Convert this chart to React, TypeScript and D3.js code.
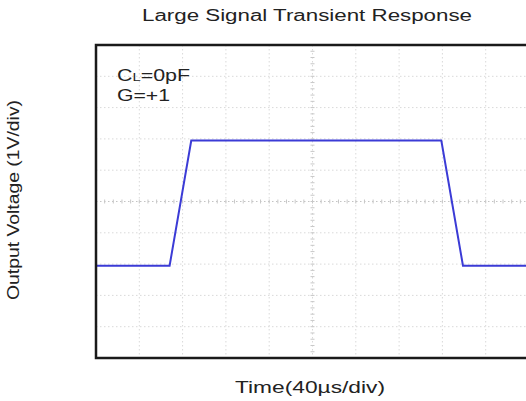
import { useEffect, useRef } from 'react'
import * as d3 from 'd3'

// scope trace, time in µs, output in V
const timeUs = [0, 68, 88, 319, 339, 400]
const voltsOut = [-2.05, -2.05, 1.95, 1.95, -2.05, -2.05]

const xDivs = d3.range(0, 401, 40)
const yDivs = d3.range(-5, 5.1, 1)

const title = 'Large Signal Transient Response'
const xLabel = 'Time(40µs/div)'
const yLabel = 'Output Voltage (1V/div)'

export default function App() {
  const svgRef = useRef<SVGSVGElement>(null)
  const width = 526
  const height = 401

  useEffect(() => {
    if (!svgRef.current) return
    const svg = d3.select(svgRef.current)
    svg.selectAll('*').remove()

    const x = d3.scaleLinear().domain([0, 400]).range([96, 529])
    const y = d3.scaleLinear().domain([-5, 5]).range([358, 45])
    const font = '"Liberation Sans", Arial, sans-serif'

    svg.append('rect').attr('width', width).attr('height', height).attr('fill', '#fff')

    // graticule
    const grid = svg.append('g')
    grid.selectAll('line.v')
      .data(xDivs.slice(1, -1))
      .join('line')
      .attr('x1', d => x(d)).attr('x2', d => x(d))
      .attr('y1', y(5)).attr('y2', y(-5))
      .attr('stroke', '#d9d9d9').attr('stroke-width', 1)
      .attr('stroke-dasharray', '1.5,2.5')
    grid.selectAll('line.h')
      .data(yDivs.slice(1, -1))
      .join('line')
      .attr('x1', x(0)).attr('x2', x(400))
      .attr('y1', d => y(d)).attr('y2', d => y(d))
      .attr('stroke', d => (d === 0 ? '#c4c4c4' : '#d9d9d9')).attr('stroke-width', 1)
      .attr('stroke-dasharray', '1.5,2.5')

    // minor ticks on the centre cross
    const minorX = d3.range(0, 400, 8)
    const minorY = d3.range(-5, 5, 0.2)
    grid.selectAll('line.mx')
      .data(minorX)
      .join('line')
      .attr('x1', d => x(d)).attr('x2', d => x(d))
      .attr('y1', y(0) - 2).attr('y2', y(0) + 2)
      .attr('stroke', '#c8c8c8')
    grid.selectAll('line.my')
      .data(minorY)
      .join('line')
      .attr('x1', x(200) - 2).attr('x2', x(200) + 2)
      .attr('y1', d => y(d)).attr('y2', d => y(d))
      .attr('stroke', '#c8c8c8')

    // trace
    const line = d3.line<number>()
      .x((_, i) => x(timeUs[i]))
      .y(d => y(d))
    svg.append('path')
      .attr('d', line(voltsOut))
      .attr('fill', 'none')
      .attr('stroke', '#3b3bd6')
      .attr('stroke-width', 2)

    // frame
    svg.append('rect')
      .attr('x', x(0)).attr('y', y(5))
      .attr('width', x(400) - x(0)).attr('height', y(-5) - y(5))
      .attr('fill', 'none')
      .attr('stroke', '#1a1a1a')
      .attr('stroke-width', 2.5)

    // text
    svg.append('text')
      .attr('x', 307).attr('y', 21)
      .attr('text-anchor', 'middle')
      .attr('font-family', font).attr('font-size', 16)
      .attr('fill', '#222')
      .attr('textLength', 330).attr('lengthAdjust', 'spacingAndGlyphs')
      .text(title)

    svg.append('text')
      .attr('x', 310).attr('y', 393)
      .attr('text-anchor', 'middle')
      .attr('font-family', font).attr('font-size', 16)
      .attr('fill', '#222')
      .attr('textLength', 150).attr('lengthAdjust', 'spacingAndGlyphs')
      .text(xLabel)

    svg.append('text')
      .attr('transform', 'translate(19,200) rotate(-90)')
      .attr('text-anchor', 'middle')
      .attr('font-family', font).attr('font-size', 16)
      .attr('fill', '#222')
      .attr('textLength', 200).attr('lengthAdjust', 'spacingAndGlyphs')
      .text(yLabel)

    const cl = svg.append('text')
      .attr('x', 117).attr('y', 81)
      .attr('font-family', font).attr('font-size', 16)
      .attr('fill', '#222')
      .attr('textLength', 73).attr('lengthAdjust', 'spacingAndGlyphs')
    cl.append('tspan').text('C')
    cl.append('tspan').attr('font-size', 11).text('L')
    cl.append('tspan').text('=0pF')

    svg.append('text')
      .attr('x', 117).attr('y', 101)
      .attr('font-family', font).attr('font-size', 16)
      .attr('fill', '#222')
      .attr('textLength', 53).attr('lengthAdjust', 'spacingAndGlyphs')
      .text('G=+1')
  }, [])

  return (
    <svg
      ref={svgRef}
      width={width}
      height={height}
      style={{ position: 'absolute', left: 0, top: 0 }}
    />
  )
}
